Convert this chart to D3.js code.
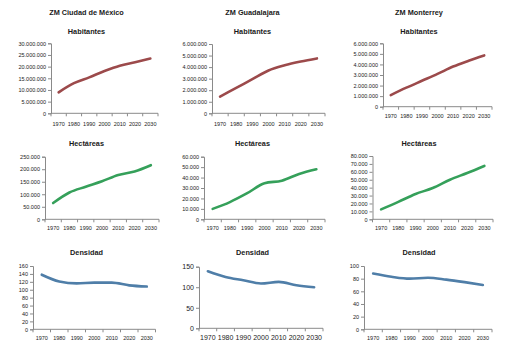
<!DOCTYPE html>
<html>
<head>
<meta charset="utf-8">
<script src="https://cdn.jsdelivr.net/npm/d3@7"></script>
<style>
body { margin: 0; background: #fff; }
text { font-family: "Liberation Sans", Arial, sans-serif; fill: #1a1a1a; }
</style>
</head>
<body>
<div class="chart"></div>
<script>
// values
const years = ["1970", "1980", "1990", "2000", "2010", "2020", "2030"];
const regions = ["ZM Ciudad de México", "ZM Guadalajara", "ZM Monterrey"];
const measures = ["Habitantes", "Hectáreas", "Densidad"];

const habCdmx = [9000000, 12900000, 15400000, 18100000, 20400000, 21900000, 23500000];
const habGdl = [1450000, 2200000, 2950000, 3700000, 4150000, 4480000, 4750000];
const habMty = [1100000, 1800000, 2450000, 3100000, 3800000, 4350000, 4850000];

const haCdmx = [65000, 107000, 130000, 152000, 177000, 191000, 216000];
const haGdl = [10000, 16500, 25000, 34500, 37000, 43500, 48000];
const haMty = [12500, 22000, 32000, 39500, 50000, 58500, 67500];

const denCdmx = [138, 121, 116, 118, 118, 111, 108];
const denGdl = [139, 125, 117, 109, 113, 105, 100];
const denMty = [88, 83, 80, 81.5, 78.5, 74.5, 70];

const ticksHabCdmx = [0, 5000000, 10000000, 15000000, 20000000, 25000000, 30000000];
const ticksHab6 = [0, 1000000, 2000000, 3000000, 4000000, 5000000, 6000000];
const ticksHaCdmx = [0, 50000, 100000, 150000, 200000, 250000];
const ticksHaGdl = [0, 10000, 20000, 30000, 40000, 50000, 60000];
const ticksHaMty = [0, 10000, 20000, 30000, 40000, 50000, 60000, 70000, 80000];
const ticksDenCdmx = [0, 20, 40, 60, 80, 100, 120, 140, 160];
const ticksDenGdl = [0, 50, 100, 150];
const ticksDenMty = [0, 20, 40, 60, 80, 100];

const colors = ["#9c4a4b", "#35a05a", "#4f7ea8"];

const width = 506, height = 352;
const locale = d3.formatLocale({ decimal: ",", thousands: ".", grouping: [3], currency: ["$", ""] });
const fmt = locale.format(",d");

// plot boxes: [left, right, top, bottom], x label y, font size
const panels = [
    { row: 0, col: 0, values: habCdmx, ticks: ticksHabCdmx, box: [51, 158, 43.3, 113.3], xl: 125, fs: 5.5 },
    { row: 0, col: 1, values: habGdl, ticks: ticksHab6, box: [212, 325, 44, 113.3], xl: 125, fs: 5.5 },
    { row: 0, col: 2, values: habMty, ticks: ticksHab6, box: [383, 492, 43.3, 106.7], xl: 116.7, fs: 5.5 },
    { row: 1, col: 0, values: haCdmx, ticks: ticksHaCdmx, box: [45, 159, 156.7, 219.3], xl: 228.3, fs: 5.5 },
    { row: 1, col: 1, values: haGdl, ticks: ticksHaGdl, box: [204, 325, 156.7, 219.3], xl: 228.3, fs: 5.5 },
    { row: 1, col: 2, values: haMty, ticks: ticksHaMty, box: [372.5, 493, 156, 219.3], xl: 228.3, fs: 5.5 },
    { row: 2, col: 0, values: denCdmx, ticks: ticksDenCdmx, box: [33, 155.5, 266, 329.3], xl: 338.3, fs: 5.5 },
    { row: 2, col: 1, values: denGdl, ticks: ticksDenGdl, box: [199, 323, 266.7, 328.3], xl: 338, fs: 7 },
    { row: 2, col: 2, values: denMty, ticks: ticksDenMty, box: [364, 492, 266, 329.3], xl: 338.3, fs: 5.5 }
];

const colCenter = [86.5, 252.5, 419];
const subY = [32, 144, 253.3];

const svg = d3.select(".chart").append("svg")
    .attr("width", width)
    .attr("height", height);

svg.append("g")
    .selectAll("text")
    .data(regions)
    .join("text")
    .attr("x", (d, i) => colCenter[i])
    .attr("y", 13)
    .attr("text-anchor", "middle")
    .attr("dominant-baseline", "middle")
    .style("font-size", "7.3px")
    .style("font-weight", "bold")
    .text(d => d);

panels.forEach(p => {
    const [left, right, top, bottom] = p.box;

    const x = d3.scalePoint()
        .domain(years)
        .range([left, right])
        .padding(0.5);

    const y = d3.scaleLinear()
        .domain([0, d3.max(p.ticks)])
        .range([bottom, top]);

    const g = svg.append("g");

    g.append("text")
        .attr("x", colCenter[p.col])
        .attr("y", subY[p.row])
        .attr("text-anchor", "middle")
        .attr("dominant-baseline", "middle")
        .style("font-size", "7.3px")
        .style("font-weight", "bold")
        .text(measures[p.row]);

    // y axis
    g.append("g")
        .attr("transform", `translate(${left},0)`)
        .call(d3.axisLeft(y).tickValues(p.ticks).tickFormat(fmt).tickSize(3).tickPadding(2))
        .call(g => g.select(".domain").attr("stroke", "#8a8a8a"))
        .call(g => g.selectAll(".tick line").attr("stroke", "#8a8a8a"))
        .call(g => g.selectAll(".tick text")
            .style("font-size", p.fs + "px")
            .style("font-family", "Liberation Sans, Arial, sans-serif")
            .attr("fill", "#1a1a1a"));

    // x axis line with ticks between categories
    const step = x.step();
    g.append("line")
        .attr("x1", left).attr("x2", right)
        .attr("y1", bottom).attr("y2", bottom)
        .attr("stroke", "#8a8a8a");

    g.append("g")
        .selectAll("line")
        .data(d3.range(years.length + 1))
        .join("line")
        .attr("x1", i => left + i * step)
        .attr("x2", i => left + i * step)
        .attr("y1", bottom)
        .attr("y2", bottom + 3)
        .attr("stroke", "#8a8a8a");

    g.append("g")
        .selectAll("text")
        .data(years)
        .join("text")
        .attr("x", d => x(d))
        .attr("y", p.xl)
        .attr("text-anchor", "middle")
        .attr("dominant-baseline", "middle")
        .style("font-size", p.fs + "px")
        .text(d => d);

    const line = d3.line()
        .x((d, i) => x(years[i]))
        .y(d => y(d))
        .curve(d3.curveMonotoneX);

    g.append("path")
        .datum(p.values)
        .attr("fill", "none")
        .attr("stroke", colors[p.row])
        .attr("stroke-width", 2.6)
        .attr("stroke-linecap", "round")
        .attr("d", line);
});
</script>
</body>
</html>
